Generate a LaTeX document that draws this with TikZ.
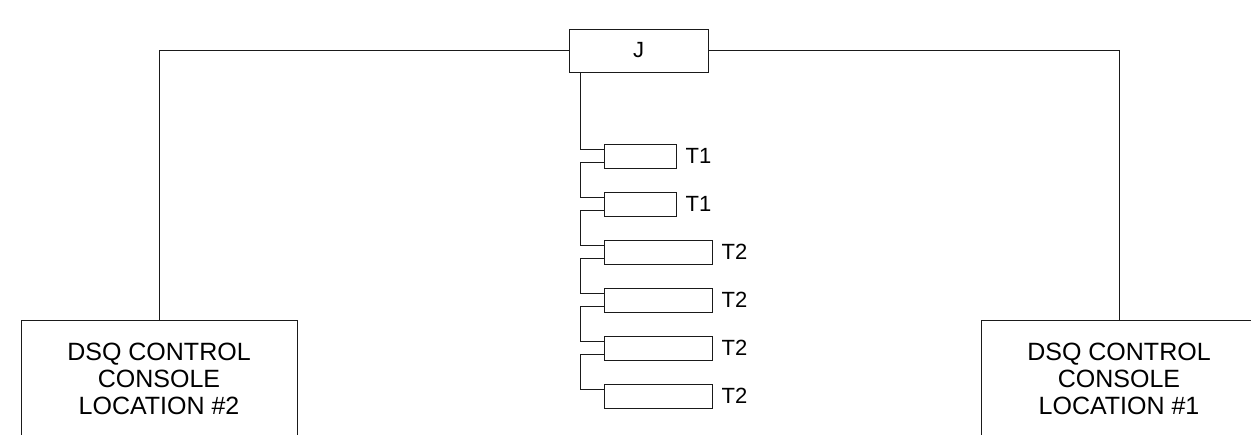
\documentclass[tikz,border=0pt]{standalone}
\usepackage{fontspec}
\setmainfont{Liberation Sans}
\usepackage{xcolor}
\definecolor{wireLine}{HTML}{1A1A1A}
\usetikzlibrary{positioning}

\begin{document}
\begin{tikzpicture}[x=1pt, y=-1pt,
    wire/.style={wireLine, line width=1pt},
    console/.style={rectangle, draw=wireLine, line width=1pt, minimum width=276pt, minimum height=118pt, align=center, font=\fontsize{25}{27}\selectfont},
    junction/.style={rectangle, draw=wireLine, line width=1pt, minimum width=139pt, minimum height=43pt, font=\fontsize{22}{24}\selectfont},
    tapbox/.style={rectangle, draw=wireLine, line width=1pt, minimum height=24pt, inner sep=0pt},
    taplabel/.style={inner sep=2pt, font=\fontsize{22}{24}\selectfont}]
  \useasboundingbox (0,0) rectangle (1251,434);
  \node[junction] (J) at (638.5,50.5) {J};
  \node[console] (con2) at (159,379) {DSQ CONTROL\\CONSOLE\\LOCATION \#2};
  \node[console] (con1) at (1119,379) {DSQ CONTROL\\CONSOLE\\LOCATION \#1};
  \node[tapbox, minimum width=72pt] (t1a) at (640,156) {};
  \node[tapbox, minimum width=72pt] (t1b) at (640,204) {};
  \node[tapbox, minimum width=108pt] (t2a) at (658,252) {};
  \node[tapbox, minimum width=108pt] (t2b) at (658,300) {};
  \node[tapbox, minimum width=108pt] (t2c) at (658,348) {};
  \node[tapbox, minimum width=108pt] (t2d) at (658,396) {};
  \node[taplabel, right=7pt of t1a] (t1aL) {T1};
  \node[taplabel, right=7pt of t1b] (t1bL) {T1};
  \node[taplabel, right=7pt of t2a] (t2aL) {T2};
  \node[taplabel, right=7pt of t2b] (t2bL) {T2};
  \node[taplabel, right=7pt of t2c] (t2cL) {T2};
  \node[taplabel, right=7pt of t2d] (t2dL) {T2};
  \coordinate (trunk) at ([xshift=12pt]J.south west);
  % main feed to both consoles
  \draw[wire] (con2.north) |- (J.west);
  \draw[wire] (J.east) -| (con1.north);
  % tap chain
  \draw[wire] (trunk) |- ([yshift=-6pt]t1a.north west);
  \draw[wire] ([yshift=6pt]t1a.south west) -- ++(-23,0) |- ([yshift=-6pt]t1b.north west);
  \draw[wire] ([yshift=6pt]t1b.south west) -- ++(-23,0) |- ([yshift=-6pt]t2a.north west);
  \draw[wire] ([yshift=6pt]t2a.south west) -- ++(-23,0) |- ([yshift=-6pt]t2b.north west);
  \draw[wire] ([yshift=6pt]t2b.south west) -- ++(-23,0) |- ([yshift=-6pt]t2c.north west);
  \draw[wire] ([yshift=6pt]t2c.south west) -- ++(-23,0) |- ([yshift=-6pt]t2d.north west);
\end{tikzpicture}
\end{document}
